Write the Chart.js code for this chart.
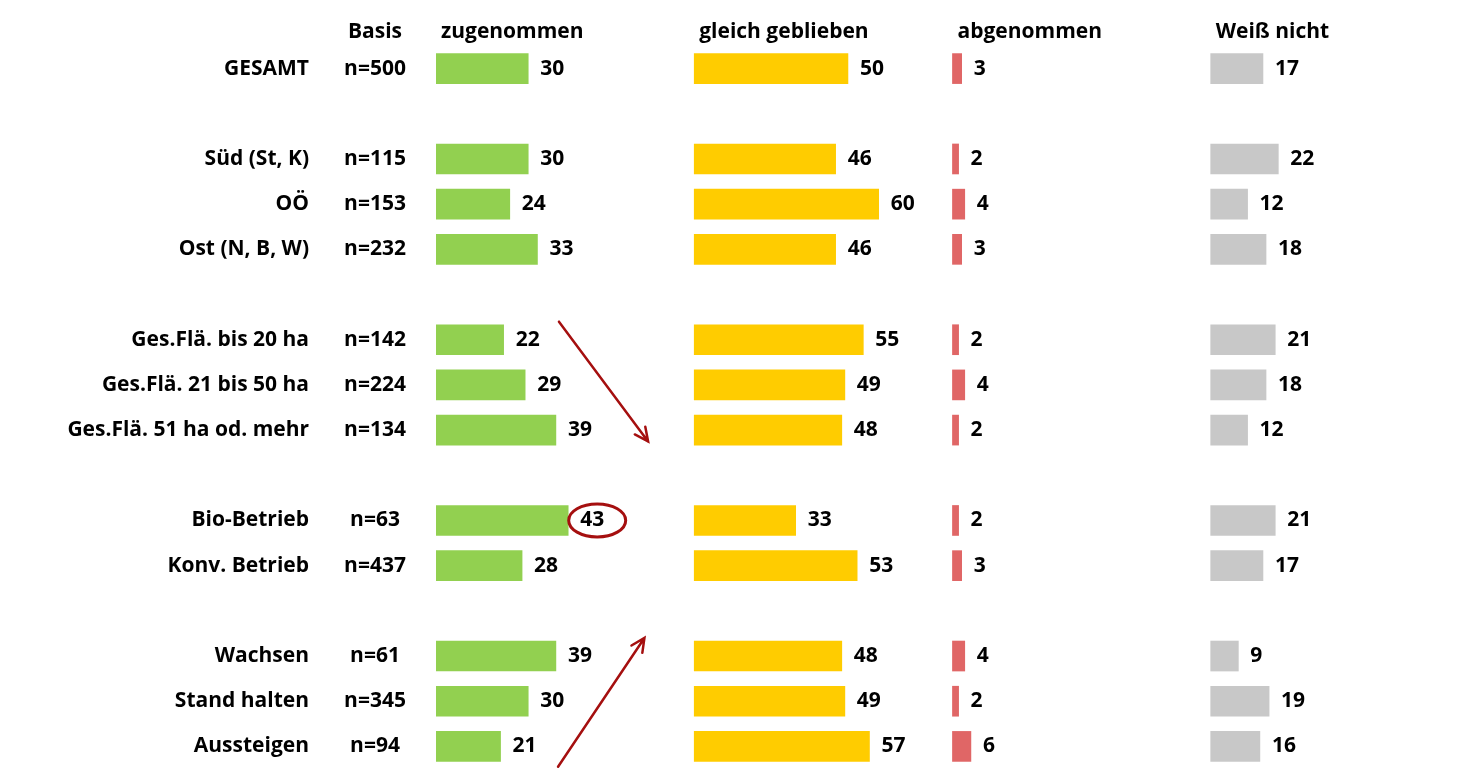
<!DOCTYPE html>
<html>
<head>
<meta charset="utf-8">
<script src="https://cdn.jsdelivr.net/npm/chart.js@4"></script>
<style>
  html, body { margin: 0; padding: 0; background: #fff; overflow: hidden; }
  canvas { display: block; }
</style>
</head>
<body>
<canvas id="chart" width="1472" height="771" style="width:1472px;height:771px"></canvas>
<script>
// rows (empty strings are spacer rows between groups)
const rows = ["GESAMT", "", "Süd (St, K)", "OÖ", "Ost (N, B, W)", "",
  "Ges.Flä. bis 20 ha", "Ges.Flä. 21 bis 50 ha", "Ges.Flä. 51 ha od. mehr", "",
  "Bio-Betrieb", "Konv. Betrieb", "", "Wachsen", "Stand halten", "Aussteigen"];
const basis = ["n=500", "", "n=115", "n=153", "n=232", "", "n=142", "n=224", "n=134", "",
  "n=63", "n=437", "", "n=61", "n=345", "n=94"];
const columns = ["zugenommen", "gleich geblieben", "abgenommen", "Weiß nicht"];
const zugenommen = [30, null, 30, 24, 33, null, 22, 29, 39, null, 43, 28, null, 39, 30, 21];
const gleichGeblieben = [50, null, 46, 60, 46, null, 55, 49, 48, null, 33, 53, null, 48, 49, 57];
const abgenommen = [3, null, 2, 4, 3, null, 2, 4, 2, null, 2, 3, null, 4, 2, 6];
const weissNicht = [17, null, 22, 12, 18, null, 21, 18, 12, null, 21, 17, null, 9, 19, 16];

const series = [zugenommen, gleichGeblieben, abgenommen, weissNicht];
const colors = ["#92D050", "#FFCC00", "#E06666", "#C8C8C8"];
const offsets = [0, 84, 168, 252]; // each column starts at its own offset on one x axis
const FONT = "'Open Sans', Lato, sans-serif";
const FONT_SIZE = 21;
const FONT_WEIGHT = "bold";
const RED = "#A50F0F";

// highlighted value and trend arrows, in data units (x value, row index)
const highlight = { dataset: 0, row: 10 };
const arrows = [
  { from: [40, 5.6], to: [69, 8.25] },
  { from: [39.7, 15.45], to: [67.8, 12.6] },
];

const datasets = series.map((vals, i) => ({
  label: columns[i],
  data: vals.map((v) => (v == null ? null : [offsets[i], offsets[i] + v])),
  backgroundColor: colors[i],
  borderWidth: 0,
  barThickness: 30,
  grouped: false,
}));

const overlay = {
  id: "overlay",
  afterDatasetsDraw(chart) {
    const ctx = chart.ctx;
    const x = chart.scales.x;
    const y = chart.scales.y;
    const area = chart.chartArea;
    ctx.save();
    ctx.fillStyle = "#000";
    ctx.font = FONT_WEIGHT + " " + FONT_SIZE + "px " + FONT;
    ctx.textBaseline = "middle";

    // column headers
    const hy = area.top - 14;
    ctx.textAlign = "center";
    ctx.fillText("Basis", area.left - 61, hy);
    ctx.textAlign = "left";
    columns.forEach((c, i) => ctx.fillText(c, x.getPixelForValue(offsets[i]) + 5, hy));

    // basis column
    ctx.textAlign = "center";
    basis.forEach((b, r) => {
      if (b) ctx.fillText(b, area.left - 61, y.getPixelForValue(r));
    });

    // value labels
    ctx.textAlign = "left";
    series.forEach((vals, i) => {
      vals.forEach((v, r) => {
        if (v == null) return;
        const px = x.getPixelForValue(offsets[i] + v) + 12;
        ctx.fillText(String(v), px, y.getPixelForValue(r));
      });
    });

    // ellipse round the highlighted value
    const hv = series[highlight.dataset][highlight.row];
    const tw = ctx.measureText(String(hv)).width;
    const cx = x.getPixelForValue(offsets[highlight.dataset] + hv) + 12 + tw / 2 + 5;
    const cy = y.getPixelForValue(highlight.row);
    ctx.strokeStyle = RED;
    ctx.lineWidth = 3;
    ctx.beginPath();
    ctx.ellipse(cx, cy, 28.5, 16.5, 0, 0, Math.PI * 2);
    ctx.stroke();

    // arrows
    ctx.lineWidth = 2.5;
    ctx.lineCap = "round";
    arrows.forEach((a) => {
      const x1 = x.getPixelForValue(a.from[0]);
      const y1 = y.getPixelForValue(a.from[1]);
      const x2 = x.getPixelForValue(a.to[0]);
      const y2 = y.getPixelForValue(a.to[1]);
      const ang = Math.atan2(y2 - y1, x2 - x1);
      const head = 15;
      ctx.beginPath();
      ctx.moveTo(x1, y1);
      ctx.lineTo(x2, y2);
      ctx.moveTo(x2 - head * Math.cos(ang - 0.45), y2 - head * Math.sin(ang - 0.45));
      ctx.lineTo(x2, y2);
      ctx.lineTo(x2 - head * Math.cos(ang + 0.45), y2 - head * Math.sin(ang + 0.45));
      ctx.stroke();
    });
    ctx.restore();
  },
};

new Chart(document.getElementById("chart"), {
  type: "bar",
  data: { labels: rows, datasets },
  options: {
    indexAxis: "y",
    responsive: false,
    devicePixelRatio: 1,
    animation: false,
    layout: { padding: { top: 46, bottom: 2, left: 0, right: 0 } },
    plugins: { legend: { display: false }, tooltip: { enabled: false } },
    scales: {
      x: { display: false, min: 0, max: 337 },
      y: {
        grid: { display: false, drawTicks: false },
        border: { display: false },
        ticks: {
          color: "#000",
          padding: 127,
          autoSkip: false,
          font: { family: FONT, size: FONT_SIZE, weight: FONT_WEIGHT },
        },
        afterFit: (scale) => {
          // tick padding is only meant horizontally here
          scale.width = 436;
          scale.paddingTop = 0;
          scale.paddingBottom = 0;
        },
      },
    },
  },
  plugins: [overlay],
});
</script>
</body>
</html>
